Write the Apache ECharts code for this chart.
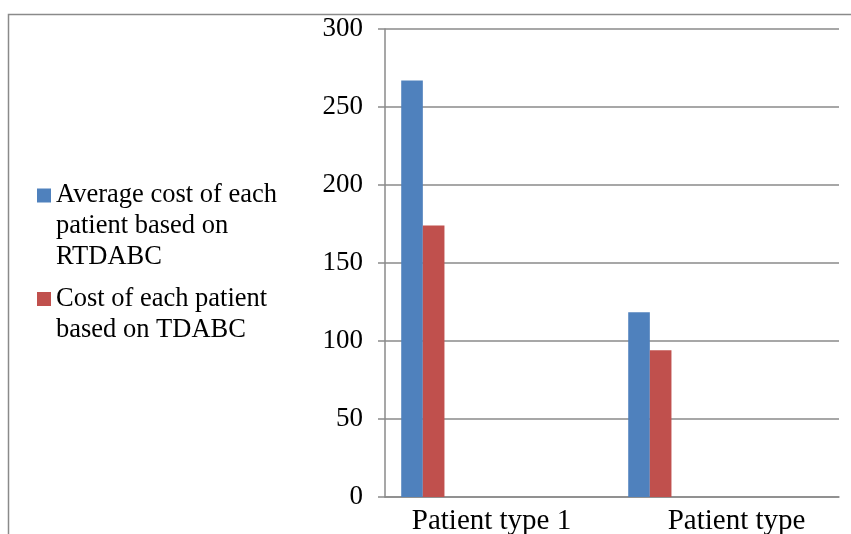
<!DOCTYPE html>
<html>
<head>
<meta charset="utf-8">
<script src="https://cdn.jsdelivr.net/npm/echarts@6/dist/echarts.min.js"></script>
<style>html,body{margin:0;padding:0;background:#fff;}#c{width:851px;height:534px;}</style>
</head>
<body>
<div id="c"></div>
<script>
const categories = ['Patient type 1', 'Patient type'];
const seriesNames = ['Average cost of each\npatient based on\nRTDABC', 'Cost of each patient\nbased on TDABC'];
const rtdabcValues = [267, 118.5];
const tdabcValues = [174, 94];
const yTicks = { min: 0, max: 300, interval: 50 };

const chart = echarts.init(document.getElementById('c'), null, { renderer: 'canvas' });
const font = 'Liberation Serif, Times New Roman, serif';
const gridColor = '#8a8a8a';

const series = [
  { name: seriesNames[0], type: 'bar', data: rtdabcValues, itemStyle: { color: '#4F81BD' }, barGap: 0, barCategoryGap: '14.29%' },
  { name: seriesNames[1], type: 'bar', data: tdabcValues, itemStyle: { color: '#C0504D' }, barGap: 0, barCategoryGap: '14.29%' }
];
// empty slots (series without values) that reserve room in each category, as in the original chart
for (let i = 0; i < 7; i++) {
  series.push({ name: 'slot' + i, type: 'bar', data: [], barGap: 0, barCategoryGap: '14.29%' });
}

// put the first text line level with the legend square (text block is centred on the square)
function topAligned(name) {
  const n = name.split('\n').length;
  return '\n'.repeat(n - 1) + name;
}

const legendCommon = {
  orient: 'vertical',
  left: 37,
  padding: 0,
  itemWidth: 14,
  itemHeight: 14,
  itemGap: 0,
  icon: 'rect',
  selectedMode: false,
  formatter: topAligned,
  textStyle: { fontFamily: font, fontSize: 26.5, lineHeight: 31, color: '#000' }
};

chart.setOption({
  animation: false,
  graphic: [{
    type: 'rect',
    shape: { x: 8.5, y: 14.5, width: 900, height: 600 },
    style: { fill: 'none', stroke: '#8a8a8a', lineWidth: 1.5 },
    silent: true
  }],
  legend: [
    Object.assign({}, legendCommon, { top: 118, data: [seriesNames[0]] }),
    Object.assign({}, legendCommon, { top: 252.5, data: [seriesNames[1]] })
  ],
  grid: { left: 385, right: 12, top: 29, bottom: 37, containLabel: false, outerBoundsMode: 'none' },
  xAxis: {
    type: 'category',
    data: [
      { value: categories[0], textStyle: { padding: [0, 14, 0, 0] } },
      { value: categories[1], textStyle: { padding: [0, 0, 0, 22] } }
    ],
    axisLine: { show: true, lineStyle: { color: gridColor, width: 1.5 } },
    axisTick: { show: false },
    axisLabel: { fontFamily: font, fontSize: 29, color: '#000', margin: 10, interval: 0 }
  },
  yAxis: {
    type: 'value',
    min: yTicks.min,
    max: yTicks.max,
    interval: yTicks.interval,
    axisLine: { show: true, lineStyle: { color: gridColor, width: 1.5 } },
    axisTick: { show: true, length: 7, lineStyle: { color: gridColor, width: 1.5 } },
    splitLine: { show: true, lineStyle: { color: gridColor, width: 1.5 } },
    axisLabel: { fontFamily: font, fontSize: 27, color: '#000', margin: 22 }
  },
  series: series
});
</script>
</body>
</html>
